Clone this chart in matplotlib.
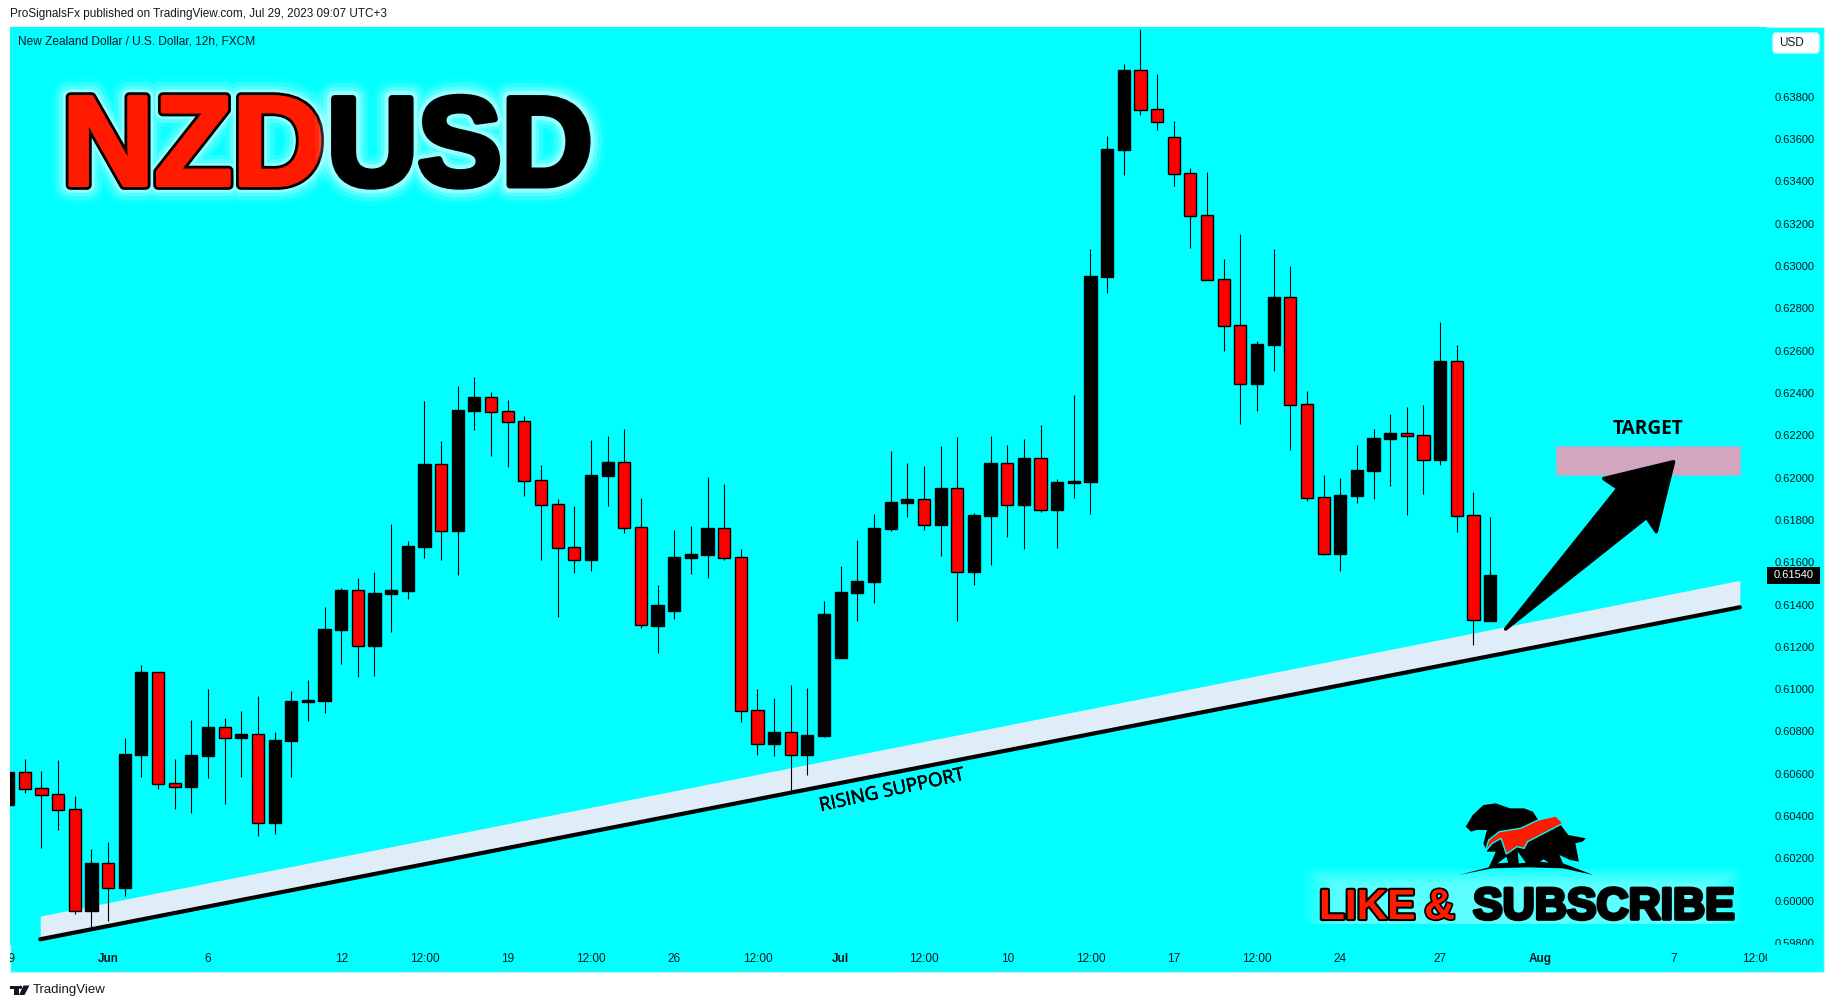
import matplotlib
matplotlib.use("Agg")
import matplotlib.pyplot as plt
import matplotlib.patheffects as pe
from matplotlib.patches import Polygon, Rectangle, FancyBboxPatch, Circle
from matplotlib.transforms import Bbox
import numpy as np

W, H = 1835, 1008

# candles, 12h, first one is cut by the left edge of the pane
candle_idx = np.arange(-1, 89)
candle_colors = ("B" "RRRR" "B" "R" "BB" "RR" "BB" "R" "B" "R" "BBBBB" "R" "BBBB" "R" "BB" "RRRRRR" "BB" "RR"
                 "BBBB" "RRR" "B" "R" "BBBBBBB" "R" "B" "R" "BB" "R" "B" "R" "BBBBB" "RRRRRRR" "BB" "RRR"
                 "BBBB" "RR" "B" "RR" "B")
highs = [
    .60608, .60670, .60613, .60665, .60495, .60243, .60277, .60769, .61114, .61081,
    .60670, .60854, .61001, .60863, .60897, .60967, .60797, .60991, .61043, .61388,
    .61478, .61525, .61553, .61780, .61700, .62362, .62173, .62433, .62475, .62404,
    .62366, .62291, .62059, .61898, .61865, .62177, .62196, .62229, .61903, .61492,
    .61752, .61771, .62002, .61969, .61662, .61001, .60958, .61019, .61005, .61416,
    .61582, .61705, .61828, .62125, .62069, .62054, .62149, .62192, .61832, .62196,
    .62154, .62182, .62248, .61993, .62392, .63080, .63614, .63954, .64120, .63907,
    .63685, .63463, .63444, .63033, .63151, .62645, .63080, .63000, .62409, .62012,
    .61998, .62154, .62229, .62300, .62333, .62343, .62735, .62626, .61932, .61813]
tops = [
    .60608, .60607, .60531, .60503, .60432, .60177, .60177, .60693, .61081, .61079,
    .60555, .60687, .60819, .60819, .60788, .60786, .60759, .60944, .60949, .61284,
    .61468, .61467, .61454, .61468, .61676, .62064, .62062, .62319, .62381, .62379,
    .62313, .62266, .61987, .61873, .61670, .62012, .62073, .62072, .61765, .61398,
    .61624, .61639, .61761, .61760, .61623, .60900, .60797, .60796, .60783, .61355,
    .61459, .61511, .61761, .61884, .61898, .61897, .61950, .61949, .61823, .62069,
    .62067, .62092, .62091, .61979, .61984, .62952, .63553, .63926, .63924, .63740,
    .63608, .63438, .63239, .62937, .62719, .62631, .62853, .62852, .62346, .61906,
    .61917, .62036, .62187, .62210, .62209, .62199, .62551, .62549, .61821, .61539]
bottoms = [
    .60452, .60530, .60501, .60430, .59954, .59953, .60062, .60062, .60689, .60553,
    .60539, .60539, .60685, .60771, .60771, .60369, .60369, .60756, .60941, .60944,
    .61279, .61205, .61205, .61450, .61464, .61672, .61749, .61747, .62314, .62311,
    .62264, .61985, .61872, .61668, .61612, .61610, .62007, .61763, .61301, .61298,
    .61369, .61620, .61634, .61621, .60898, .60742, .60741, .60690, .60689, .60778,
    .61147, .61454, .61506, .61757, .61880, .61777, .61776, .61555, .61553, .61818,
    .61872, .61870, .61848, .61846, .61974, .61979, .62948, .63548, .63739, .63682,
    .63436, .63238, .62935, .62718, .62444, .62442, .62626, .62344, .61905, .61640,
    .61638, .61913, .62031, .62182, .62198, .62084, .62083, .61820, .61325, .61323]
lows = [
    .60452, .60511, .60249, .60334, .59937, .59869, .59906, .60022, .60585, .60528,
    .60433, .60414, .60580, .60457, .60585, .60306, .60315, .60585, .60849, .60887,
    .61119, .61057, .61062, .61270, .61426, .61620, .61610, .61539, .62225, .62102,
    .62050, .61913, .61610, .61341, .61549, .61558, .61865, .61738, .61290, .61171,
    .61331, .61544, .61525, .61610, .60845, .60689, .60684, .60518, .60594, .60774,
    .61147, .61322, .61407, .61747, .61813, .61752, .61629, .61322, .61492, .61587,
    .61719, .61662, .61837, .61667, .61903, .61828, .62872, .63430, .63713, .63642,
    .63378, .63085, .62935, .62598, .62253, .62314, .62503, .62130, .61889, .61634,
    .61558, .61880, .61898, .61960, .61823, .61922, .62059, .61743, .61210, .61323]

y_ticks = [0.598 + 0.002 * i for i in range(21)]
x_tick_pos = [5, 11, 19, 24, 29, 34, 39, 44, 49, 54, 59, 64, 69, 74, 79, 85, 91, 99, 104]
x_tick_labels = ["Jun", "6", "12", "12:00", "19", "12:00", "26", "12:00", "Jul", "12:00", "10", "12:00",
                 "17", "12:00", "24", "27", "Aug", "7", "12:00"]
last_price = "0.61540"

# drawings, in candle index / price
support_x = [0.925, 103.0]
support_low = [0.59818, 0.61387]
support_high = [0.59928, 0.61514]
target_x = [91.98, 103.0]
target_y = [0.62011, 0.62151]
arrow_x = [88.93, 95.68, 94.82, 99.02, 97.98, 97.40]
arrow_y = [0.61284, 0.61949, 0.61995, 0.62075, 0.61744, 0.61812]

plt.rcParams["font.family"] = ["Liberation Sans", "DejaVu Sans"]
fig = plt.figure(figsize=(W / 100, H / 100), dpi=100, facecolor="white")


def fig_xy(x, y):
    return x / W, 1 - y / H


# whole cyan panel behind pane and both scales
fig.add_artist(Rectangle(fig_xy(9.5, 972), 1814.5 / W, 945 / H, transform=fig.transFigure,
                         facecolor="#00ffff", edgecolor="#c8f0f0", linewidth=1, zorder=-1))

L, R, T, B = 10, 1767, 27, 945
ax = fig.add_axes([L / W, 1 - B / H, (R - L) / W, (B - T) / H], facecolor="#00ffff")
ax.set_xlim(-0.89, 104.63)
ax.set_ylim(0.59791, 0.64129)
for s in ax.spines.values():
    s.set_visible(False)

# support band and target box
ax.fill_between(support_x, support_low, support_high, color="#dfedf9", linewidth=0, zorder=1)
ax.add_patch(Rectangle((target_x[0], target_y[0]), target_x[1] - target_x[0], target_y[1] - target_y[0],
                       facecolor="#d4a5bf", edgecolor="#7cc8e0", linewidth=0.8, zorder=1))

# candles
x = candle_idx
bar_colors = ["red" if c == "R" else "black" for c in candle_colors]
ax.vlines(x, lows, highs, color="black", linewidth=0.8, zorder=2)
ax.bar(x, np.array(tops) - np.array(bottoms), bottom=bottoms, width=0.73, color=bar_colors,
       edgecolor="black", linewidth=1.0, zorder=3)

ax.plot(support_x, support_low, color="black", linewidth=3, solid_capstyle="round", zorder=4)
ax.add_patch(Polygon(list(zip(arrow_x, arrow_y)), closed=True, facecolor="black", edgecolor="black",
                     linewidth=2.5, joinstyle="round", zorder=5))

# scales
ax.yaxis.tick_right()
ax.set_yticks(y_ticks)
ax.set_yticklabels(["%.5f" % v for v in y_ticks])
ax.set_xticks(x_tick_pos)
ax.set_xticklabels(x_tick_labels)
ax.tick_params(axis="both", length=0, labelsize=8, colors="#131722")
ax.tick_params(axis="y", pad=5.5)
ax.tick_params(axis="x", pad=6, labelsize=8.5)
for lab in ax.get_xticklabels():
    if lab.get_text() in ("Jun", "Jul", "Aug"):
        lab.set_fontweight("bold")
    lab.set_clip_box(Bbox([[L, 0], [R, H]]))
    lab.set_clip_on(True)
for lab in ax.get_yticklabels():
    lab.set_clip_box(Bbox([[0, H - B], [W, H]]))
    lab.set_clip_on(True)

# overlay in image pixels for texts and logos
ov = fig.add_axes([0, 0, 1, 1], facecolor="none")
ov.set_xlim(0, W)
ov.set_ylim(H, 0)
ov.axis("off")

cut = ov.text(8.6, 959, "29", ha="center", va="center", fontsize=8.5, color="#131722")
cut.set_clip_box(Bbox([[L, 0], [R, H]]))
cut.set_clip_on(True)

ov.text(10, 14, "ProSignalsFx published on TradingView.com, Jul 29, 2023 09:07 UTC+3", fontsize=8.47,
        va="center", color="#131722")
ov.text(18, 41, "New Zealand Dollar / U.S. Dollar, 12h, FXCM", fontsize=8.6, va="center", color="#131722")

# USD button and last price tag
ov.add_patch(FancyBboxPatch((1773, 33), 46, 20, boxstyle="round,pad=0,rounding_size=3", facecolor="white",
                            edgecolor="#d8f8f8", linewidth=1))
ov.text(1791, 43, "USD", fontsize=8.5, ha="center", va="center", color="#131722")
ov.add_patch(Rectangle((1767, 567), 53, 17, facecolor="black", edgecolor="none"))
ov.text(1794, 575.5, last_price, fontsize=8, ha="center", va="center", color="white")

# big pair name
glow = [pe.withStroke(linewidth=28, foreground="white", alpha=0.06),
        pe.withStroke(linewidth=22, foreground="white", alpha=0.12),
        pe.withStroke(linewidth=16, foreground="white", alpha=0.20),
        pe.withStroke(linewidth=11, foreground="white", alpha=0.35)]
ov.text(62, 185, "NZD", fontsize=92, fontweight="bold", color="#ff1a00", va="baseline",
        path_effects=glow + [pe.withStroke(linewidth=7, foreground="black"),
                             pe.withStroke(linewidth=3, foreground="#ff1a00")])
ov.text(327, 185, "USD", fontsize=90.5, fontweight="bold", color="black", va="baseline",
        path_effects=glow + [pe.withStroke(linewidth=5, foreground="black")])

ov.text(892, 790.5, "RISING SUPPORT", fontsize=13.5, family="Open Sans", rotation=12.3, rotation_mode="anchor",
        ha="center", va="center", color="black",
        path_effects=[pe.withStroke(linewidth=0.4, foreground="black")])
ov.text(1648, 429, "TARGET", fontsize=13.7, family="Open Sans", fontweight="bold", ha="center", va="center",
        color="black")

# like & subscribe with the bear and bull logo, points read from a 2.827 x 3 zoom at (1280, 780)
bear_bull = [(525, 140), (545, 105), (575, 75), (610, 70), (650, 85), (690, 85), (715, 95), (730, 120), (790, 130),
             (815, 165), (865, 175), (855, 185), (835, 190), (845, 245), (820, 240), (790, 225), (800, 250),
             (830, 262), (885, 285), (800, 265), (700, 262), (600, 265), (505, 285), (590, 262), (600, 240),
             (610, 215), (585, 215), (575, 190), (585, 150), (555, 150), (540, 155), (530, 145)]
streak = [(580, 215), (590, 180), (620, 155), (680, 145), (730, 120), (780, 108), (800, 130), (700, 185), (690, 205),
          (670, 200), (640, 222), (625, 175), (600, 190)]
holes = [[(615, 250), (640, 230), (645, 248)], [(672, 215), (695, 248), (675, 250)], [(735, 245), (760, 248), (745, 238)]]


def logo_pts(pts):
    return [(1280 + px / 2.827, 780 + py / 3) for px, py in pts]


# soft glow behind the words, sharp only along the bottom edge
for k in range(12):
    ov.add_patch(Rectangle((1303 + k * 3, 867 + k * 1.5), 439 - k * 6, 57 - k * 1.5, facecolor="white", alpha=0.04,
                           edgecolor="none"))
ov.add_patch(Polygon(logo_pts(bear_bull), closed=True, facecolor="black", edgecolor="none"))
for h in holes:
    ov.add_patch(Polygon(logo_pts(h), closed=True, facecolor="#00ffff", edgecolor="none"))
ov.add_patch(Polygon(logo_pts(streak), closed=True, facecolor="#ff1a00", edgecolor="#00ffff", linewidth=1))

ov.text(1319, 919, "LIKE", fontsize=30.5, fontweight="bold", color="#ff1a00", va="baseline",
        path_effects=[pe.withStroke(linewidth=3, foreground="black")])
ov.text(1424, 919, "&", fontsize=31, fontweight="bold", color="#ff1a00", va="baseline",
        path_effects=[pe.withStroke(linewidth=2.5, foreground="black")])
ov.text(1473, 919, "SUBSCRIBE", fontsize=32, fontweight="bold", color="black", va="baseline",
        path_effects=[pe.withStroke(linewidth=2.6, foreground="black")])

# TradingView mark at the bottom
ov.add_patch(Polygon([(10, 985.5), (18.5, 985.5), (18.5, 995), (14, 995), (14, 989), (10, 989)], closed=True,
                     facecolor="#131722", edgecolor="none"))
ov.add_patch(Circle((20.5, 987.3), 1.7, facecolor="#131722", edgecolor="none"))
ov.add_patch(Polygon([(23.5, 985.5), (29.5, 985.5), (24.5, 995), (19, 995)], closed=True, facecolor="#131722",
                     edgecolor="none"))
ov.text(33, 990, "TradingView", fontsize=9.5, va="center", color="#131722")

fig.savefig("out.png", dpi=100)
